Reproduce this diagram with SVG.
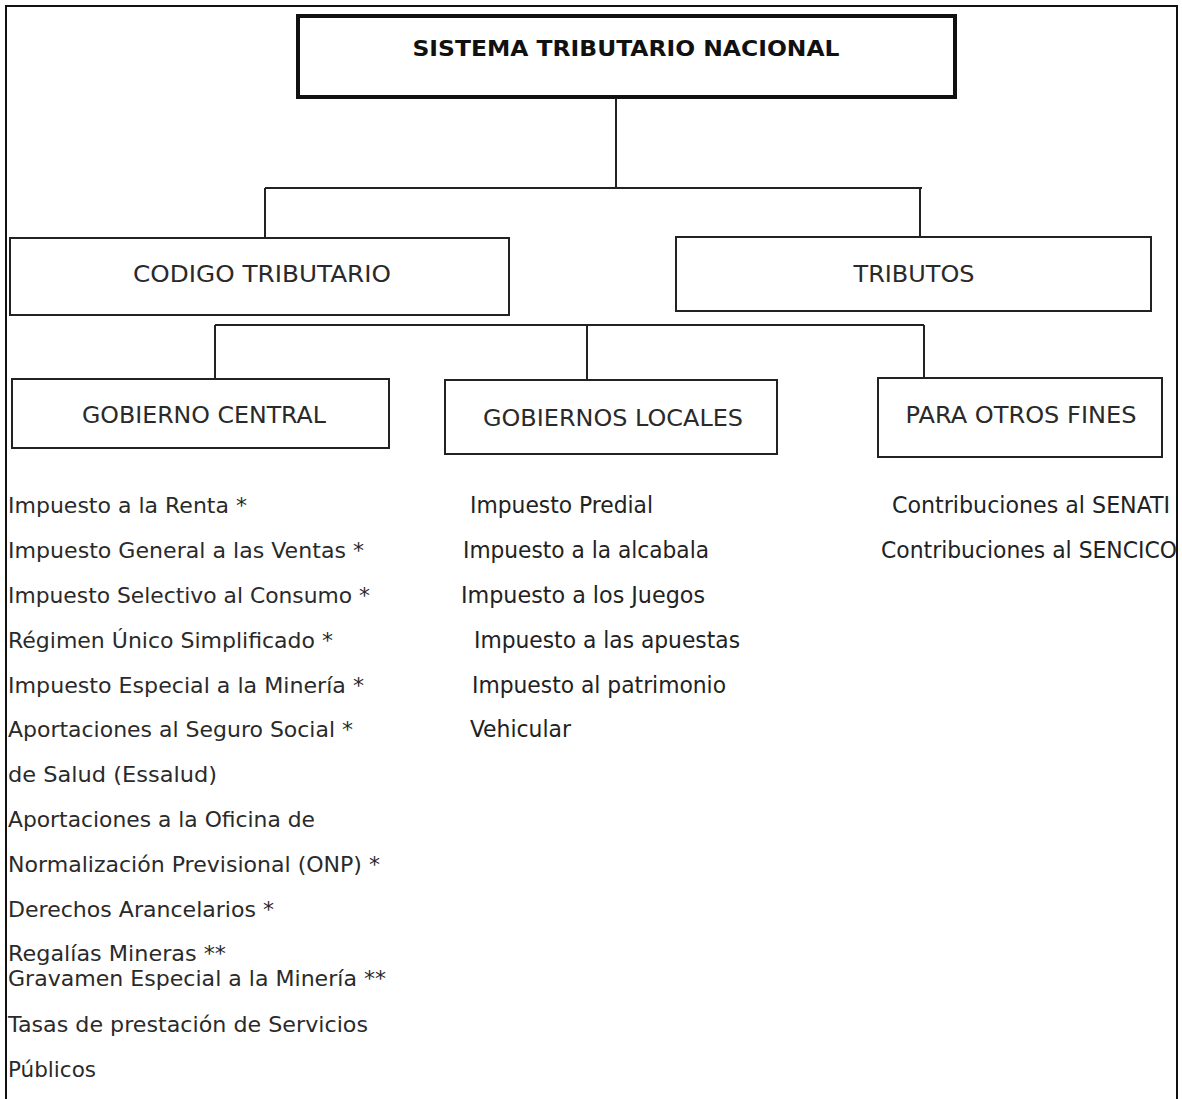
<svg xmlns="http://www.w3.org/2000/svg" width="1182" height="1099" viewBox="0 0 1182 1099">
<style>
.box{fill:#fff;stroke:#222;stroke-width:2}
.main{fill:#fff;stroke:#111;stroke-width:4}
.lbl{font-family:"DejaVu Sans",Verdana,sans-serif;font-size:22.5px;fill:#2a2a2a;text-anchor:middle}
.ttl{font-family:"DejaVu Sans",Verdana,sans-serif;font-size:21px;font-weight:bold;fill:#111;text-anchor:middle}
.it{font-family:"DejaVu Sans",Verdana,sans-serif;font-size:21.5px;fill:#2a2a2a}
.it2{font-family:"DejaVu Sans Condensed","DejaVu Sans",sans-serif;font-stretch:condensed;font-size:23.5px;fill:#222}
.con{fill:none;stroke:#222;stroke-width:2}
</style>
<rect x="0" y="0" width="1182" height="1099" fill="#fff"/>
<rect x="6" y="6" width="1171" height="1110" fill="none" stroke="#111" stroke-width="2"/>
<g id="connectors">
<path class="con" d="M616 97V188M265 188H922M265 188V238M920 188V237"/>
<path class="con" d="M215 325H924M215 325V379M587 325V380M924 325V378"/>
</g>
<g id="n-sistema">
<rect class="main" x="298" y="16" width="657" height="81"/>
<text class="ttl" x="626" y="56" textLength="427" lengthAdjust="spacingAndGlyphs">SISTEMA TRIBUTARIO NACIONAL</text>
</g>
<g id="n-codigo">
<rect class="box" x="10" y="238" width="499" height="77"/>
<text class="lbl" x="262" y="282" textLength="258" lengthAdjust="spacingAndGlyphs">CODIGO TRIBUTARIO</text>
</g>
<g id="n-tributos">
<rect class="box" x="676" y="237" width="475" height="74"/>
<text class="lbl" x="914" y="282" textLength="121" lengthAdjust="spacingAndGlyphs">TRIBUTOS</text>
</g>
<g id="n-central">
<rect class="box" x="12" y="379" width="377" height="69"/>
<text class="lbl" x="204" y="423" textLength="244" lengthAdjust="spacingAndGlyphs">GOBIERNO CENTRAL</text>
</g>
<g id="n-locales">
<rect class="box" x="445" y="380" width="332" height="74"/>
<text class="lbl" x="613" y="426" textLength="260" lengthAdjust="spacingAndGlyphs">GOBIERNOS LOCALES</text>
</g>
<g id="n-otros">
<rect class="box" x="878" y="378" width="284" height="79"/>
<text class="lbl" x="1021" y="423" textLength="231" lengthAdjust="spacingAndGlyphs">PARA OTROS FINES</text>
</g>
<g id="list-central">
<text class="it" x="8" y="513" textLength="239" lengthAdjust="spacingAndGlyphs">Impuesto a la Renta *</text>
<text class="it" x="8" y="558" textLength="356" lengthAdjust="spacingAndGlyphs">Impuesto General a las Ventas *</text>
<text class="it" x="8" y="603" textLength="362" lengthAdjust="spacingAndGlyphs">Impuesto Selectivo al Consumo *</text>
<text class="it" x="8" y="648" textLength="325" lengthAdjust="spacingAndGlyphs">Régimen Único Simplificado *</text>
<text class="it" x="8" y="693" textLength="356" lengthAdjust="spacingAndGlyphs">Impuesto Especial a la Minería *</text>
<text class="it" x="8" y="737" textLength="345" lengthAdjust="spacingAndGlyphs">Aportaciones al Seguro Social *</text>
<text class="it" x="8" y="782" textLength="209" lengthAdjust="spacingAndGlyphs">de Salud (Essalud)</text>
<text class="it" x="8" y="827" textLength="307" lengthAdjust="spacingAndGlyphs">Aportaciones a la Oficina de</text>
<text class="it" x="8" y="872" textLength="372" lengthAdjust="spacingAndGlyphs">Normalización Previsional (ONP) *</text>
<text class="it" x="8" y="917" textLength="266" lengthAdjust="spacingAndGlyphs">Derechos Arancelarios *</text>
<text class="it" x="8" y="961" textLength="218" lengthAdjust="spacingAndGlyphs">Regalías Mineras **</text>
<text class="it" x="8" y="986" textLength="378" lengthAdjust="spacingAndGlyphs">Gravamen Especial a la Minería **</text>
<text class="it" x="8" y="1032" textLength="360" lengthAdjust="spacingAndGlyphs">Tasas de prestación de Servicios</text>
<text class="it" x="8" y="1077" textLength="88" lengthAdjust="spacingAndGlyphs">Públicos</text>
</g>
<g id="list-locales">
<text class="it2" x="470" y="513" textLength="183" lengthAdjust="spacingAndGlyphs">Impuesto Predial</text>
<text class="it2" x="463" y="558" textLength="246" lengthAdjust="spacingAndGlyphs">Impuesto a la alcabala</text>
<text class="it2" x="461" y="603" textLength="244" lengthAdjust="spacingAndGlyphs">Impuesto a los Juegos</text>
<text class="it2" x="474" y="648" textLength="266" lengthAdjust="spacingAndGlyphs">Impuesto a las apuestas</text>
<text class="it2" x="472" y="693" textLength="254" lengthAdjust="spacingAndGlyphs">Impuesto al patrimonio</text>
<text class="it2" x="470" y="737" textLength="101" lengthAdjust="spacingAndGlyphs">Vehicular</text>
</g>
<g id="list-otros">
<text class="it2" x="892" y="513" textLength="278" lengthAdjust="spacingAndGlyphs">Contribuciones al SENATI</text>
<text class="it2" x="881" y="558" textLength="296" lengthAdjust="spacingAndGlyphs">Contribuciones al SENCICO</text>
</g>
</svg>
